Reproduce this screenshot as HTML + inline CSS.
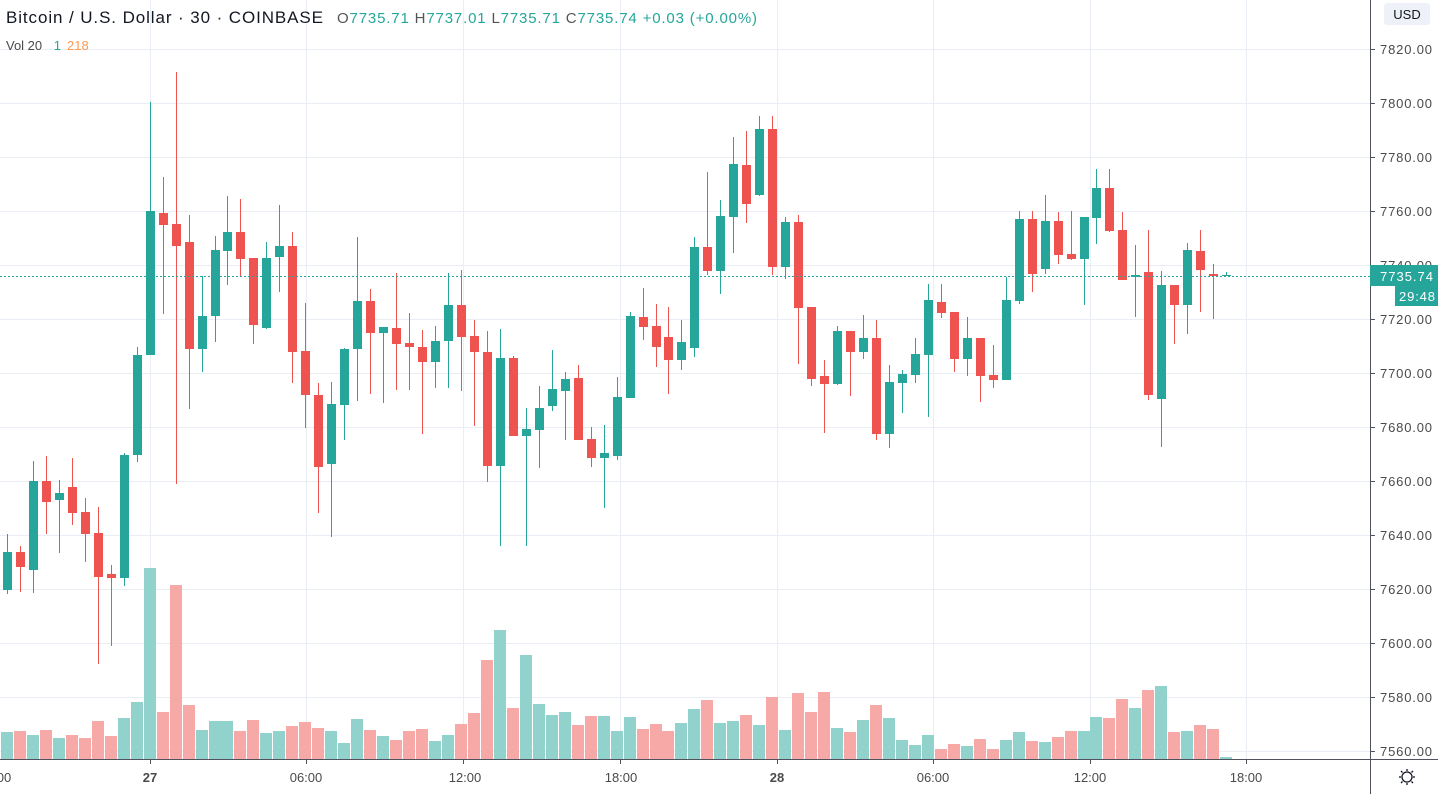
<!DOCTYPE html>
<html><head><meta charset="utf-8">
<style>
html,body{margin:0;padding:0;background:#fff;}
body{width:1438px;height:794px;overflow:hidden;position:relative;font-family:"Liberation Sans","DejaVu Sans",sans-serif;}
svg{position:absolute;left:0;top:0;}
.pl{font-size:13px;fill:#4a4a4a;}
.tl{font-size:13px;fill:#4a4a4a;text-anchor:middle;}
</style></head>
<body>
<svg id="c" width="1438" height="794" xmlns="http://www.w3.org/2000/svg">
<g id="grid" stroke="#e8eef3" stroke-width="1"></g>
<g id="vol"></g>
<g id="cand"></g>
<line x1="0" y1="276.5" x2="1370" y2="276.5" stroke="#26a69a" stroke-width="1" stroke-dasharray="2,2"/>
<line x1="1370.5" y1="0" x2="1370.5" y2="794" stroke="#50535e" stroke-width="1"/>
<line x1="0" y1="759.5" x2="1438" y2="759.5" stroke="#50535e" stroke-width="1"/>
<g id="ticks" stroke="#50535e"></g>
<rect x="1384" y="3" width="46" height="22" rx="3" fill="#eef1f7"/>
<text x="1407" y="19" font-size="13" fill="#131722" text-anchor="middle">USD</text>
<text class="pl" x="1380" y="54" textLength="52">7820.00</text>
<text class="pl" x="1380" y="108" textLength="52">7800.00</text>
<text class="pl" x="1380" y="162" textLength="52">7780.00</text>
<text class="pl" x="1380" y="216" textLength="52">7760.00</text>
<text class="pl" x="1380" y="270" textLength="52">7740.00</text>
<text class="pl" x="1380" y="324" textLength="52">7720.00</text>
<text class="pl" x="1380" y="378" textLength="52">7700.00</text>
<text class="pl" x="1380" y="432" textLength="52">7680.00</text>
<text class="pl" x="1380" y="486" textLength="52">7660.00</text>
<text class="pl" x="1380" y="540" textLength="52">7640.00</text>
<text class="pl" x="1380" y="594" textLength="52">7620.00</text>
<text class="pl" x="1380" y="648" textLength="52">7600.00</text>
<text class="pl" x="1380" y="702" textLength="52">7580.00</text>
<text class="pl" x="1380" y="756" textLength="52">7560.00</text>
<rect x="1370" y="265" width="68" height="21" fill="#26a69a"/>
<text x="1380" y="281" font-size="13" fill="#fff" textLength="53">7735.74</text>
<rect x="1395" y="286" width="43" height="20" fill="#26a69a"/>
<text x="1399" y="301" font-size="13" fill="#fff" textLength="36">29:48</text>
<text class="tl" x="4" y="782">00</text>
<text class="tl" x="150" y="782" font-weight="bold" fill="#131722">27</text>
<text class="tl" x="306" y="782">06:00</text>
<text class="tl" x="465" y="782">12:00</text>
<text class="tl" x="621" y="782">18:00</text>
<text class="tl" x="777" y="782" font-weight="bold" fill="#131722">28</text>
<text class="tl" x="933" y="782">06:00</text>
<text class="tl" x="1090" y="782">12:00</text>
<text class="tl" x="1246" y="782">18:00</text>
<g transform="translate(1407,777)" stroke="#131722" stroke-width="1.3" fill="none">
<circle r="5"/>
<line x1="0" y1="-6" x2="0" y2="-8"/><line x1="0" y1="6" x2="0" y2="8"/>
<line x1="-6" y1="0" x2="-8" y2="0"/><line x1="6" y1="0" x2="8" y2="0"/>
<line x1="-4.5" y1="-4.5" x2="-6" y2="-6"/><line x1="4.5" y1="4.5" x2="6" y2="6"/>
<line x1="-4.5" y1="4.5" x2="-6" y2="6"/><line x1="4.5" y1="-4.5" x2="6" y2="-6"/>
</g>
<text x="6" y="23" font-size="17" fill="#131722" textLength="317">Bitcoin / U.S. Dollar · 30 · COINBASE</text>
<text x="337" y="23" font-size="15" fill="#26a69a" textLength="420"><tspan fill="#555">O</tspan>7735.71 <tspan fill="#555"> H</tspan>7737.01 <tspan fill="#555"> L</tspan>7735.71 <tspan fill="#555"> C</tspan>7735.74 +0.03 (+0.00%)</text>
<text x="6" y="50" font-size="13" fill="#4a4a4a">Vol 20 <tspan fill="#26a69a" dx="8">1</tspan><tspan fill="#ff9850" dx="6">218</tspan></text>
</svg>
<script>
var NS="http://www.w3.org/2000/svg";
function el(p,t,a){var e=document.createElementNS(NS,t);for(var k in a)e.setAttribute(k,a[k]);p.appendChild(e);return e;}
var grid=document.getElementById('grid'),ticks=document.getElementById('ticks');
for(var k=0;k<14;k++){var y=49+k*54+0.5;el(grid,'line',{x1:0,y1:y,x2:1370,y2:y});el(ticks,'line',{x1:1370,y1:y,x2:1375,y2:y});}
[150,306,463,620,777,933,1090,1246].forEach(function(x){el(grid,'line',{x1:x+0.5,y1:0,x2:x+0.5,y2:759});el(ticks,'line',{x1:x+0.5,y1:759,x2:x+0.5,y2:764});});
var D=[[552,590,534,594,1],[552,567,546,592,0],[481,570,461,593,1],[481,502,456,534,0],[493,500,480,553,1],[487,513,458,525,0],[512,534,498,562,0],[533,577,507,664,0],[574,578,565,646,0],[455,578,453,586,1],
[355,455,347,462,1],[211,355,102,355,1],[213,225,177,314,0],[224,246,72,484,0],[242,349,215,409,0],[316,349,276,372,1],[250,316,236,342,1],[232,251,196,285,1],[232,259,199,277,0],[258,325,258,344,0],
[258,328,242,329,1],[246,257,205,292,1],[246,352,232,383,0],[351,395,303,428,0],[395,467,383,513,0],[404,464,382,537,1],[349,405,348,440,1],[301,349,237,401,1],[301,333,289,394,0],[327,333,327,403,1],
[328,344,273,390,0],[343,347,313,390,0],[347,362,330,434,0],[341,362,326,388,1],[305,341,273,388,1],[305,337,270,391,0],[336,352,320,426,0],[352,466,331,482,0],[358,466,329,546,1],[358,436,356,436,0],
[429,436,408,546,1],[408,430,386,468,1],[389,406,350,411,1],[379,391,372,440,1],[378,440,365,440,0],[439,458,427,467,0],[453,458,425,508,1],[397,456,377,460,1],[316,398,312,398,1],[317,327,288,340,0],
[326,347,304,367,0],[337,360,307,394,0],[342,360,320,370,1],[247,348,237,357,1],[247,271,172,275,0],[216,271,200,294,1],[164,217,137,253,1],[165,204,131,223,0],[129,195,116,196,1],[129,267,116,275,0],
[222,267,217,279,1],[222,308,215,364,0],[307,379,307,386,0],[376,384,360,433,0],[331,384,326,385,1],[331,352,331,396,0],[338,352,315,359,1],[338,434,320,440,0],[382,434,365,448,1],[374,383,370,413,1],
[354,375,338,383,1],[300,355,284,417,1],[302,313,284,318,0],[312,359,312,372,0],[338,359,317,376,1],[338,376,338,402,0],[375,380,345,388,0],[300,380,277,380,1],[219,301,211,304,1],[219,274,211,292,0],
[221,269,195,274,1],[221,255,212,264,0],[254,259,211,260,0],[217,259,217,305,1],[188,218,169,244,1],[188,231,169,232,0],[230,280,212,280,0],[275,277,245,317,1],[272,395,230,400,0],[285,399,271,447,1],
[285,305,285,344,0],[250,305,243,334,1],[251,270,230,312,0],[274,276,264,319,0],[275,276,272,276,1]];
var V=[732,731,735,730,738,735,738,721,736,718,702,568,712,585,705,730,721,721,731,720,733,731,726,722,728,731,743,719,730,736,740,731,729,741,735,724,713,660,630,708,655,704,715,712,725,716,716,731,717,729,724,731,723,709,700,723,721,715,725,697,730,693,712,692,728,732,720,705,718,740,745,735,749,744,746,739,749,740,732,741,742,737,731,731,717,718,699,708,690,686,732,731,725,729,757];
var cg=document.getElementById('cand'),vg=document.getElementById('vol');
for(var i=0;i<D.length;i++){
 var x=Math.round(7+12.97*i),d=D[i],col=d[4]?'#26a69a':'#ef5350',vc=d[4]?'#92d2cc':'#f7a9a7';
 el(vg,'rect',{x:x-6,y:V[i],width:12,height:759-V[i],fill:vc});
 el(cg,'rect',{x:x,y:d[2],width:1,height:Math.max(1,d[3]-d[2]),fill:col});
 el(cg,'rect',{x:x-4,y:d[0],width:9,height:Math.max(1,d[1]-d[0]),fill:col});
}
</script>
</body></html>
